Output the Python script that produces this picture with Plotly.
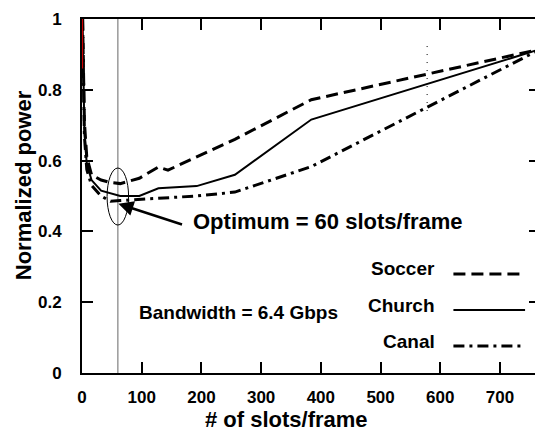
import plotly.graph_objects as go

# ---- data ----
soccer_x = [1, 2, 4, 8, 16, 32, 48, 64, 96, 128, 144, 256, 384, 768]
soccer_y = [1.0, 0.86, 0.71, 0.61, 0.56, 0.545, 0.538, 0.535, 0.55, 0.582, 0.573, 0.66, 0.772, 0.915]

church_x = [1, 2, 4, 8, 16, 32, 64, 96, 128, 192, 256, 384, 768]
church_y = [1.0, 0.84, 0.68, 0.59, 0.545, 0.515, 0.50, 0.50, 0.522, 0.528, 0.56, 0.716, 0.915]

canal_x = [1, 2, 4, 8, 16, 32, 48, 64, 96, 128, 192, 256, 384, 768]
canal_y = [1.0, 0.83, 0.67, 0.575, 0.53, 0.50, 0.485, 0.487, 0.49, 0.495, 0.50, 0.511, 0.583, 0.915]

x_ticks = [0, 100, 200, 300, 400, 500, 600, 700]
y_ticks = [0, 0.2, 0.4, 0.6, 0.8, 1]
y_tick_text = ["0", "0.2", "0.4", "0.6", "0.8", "1"]

series_names = ["Soccer", "Church", "Canal"]
optimum = 60

FONT = "Arial, Liberation Sans, sans-serif"
DASH_SOCCER = "12px,6px"
DASH_CANAL = "11px,5px,3px,5px"

fig = go.Figure()
fig.add_trace(go.Scatter(x=soccer_x, y=soccer_y, mode="lines", name=series_names[0],
                         line=dict(color="black", width=3, dash=DASH_SOCCER)))
fig.add_trace(go.Scatter(x=church_x, y=church_y, mode="lines", name=series_names[1],
                         line=dict(color="black", width=2)))
fig.add_trace(go.Scatter(x=canal_x, y=canal_y, mode="lines", name=series_names[2],
                         line=dict(color="black", width=3, dash=DASH_CANAL)))

shapes = []
# vertical grey line at optimum
shapes.append(dict(type="line", xref="x", yref="paper", x0=optimum, x1=optimum, y0=0, y1=1,
                   line=dict(color="#999999", width=1.5), layer="below"))
# ellipse around optimum
shapes.append(dict(type="circle", xref="x", yref="y", x0=42, x1=78, y0=0.418, y1=0.579,
                   line=dict(color="black", width=1)))
# red segment at left edge
shapes.append(dict(type="line", xref="x", yref="y", x0=0.6, x1=0.6, y0=0.86, y1=1.0,
                   line=dict(color="#cc0000", width=1.5)))
# small dotted vertical marks
shapes.append(dict(type="line", xref="x", yref="y", x0=578, x1=578, y0=0.74, y1=0.93,
                   line=dict(color="black", width=1, dash="1px,7px")))

# legend samples (text left, line right)
leg_y_line = [0.28, 0.178, 0.076]
leg_y_text = [0.294, 0.192, 0.09]
leg_dash = [DASH_SOCCER, "solid", DASH_CANAL]
leg_w = [3, 2, 3]
annotations = []
for name, yl, yt, d, w in zip(series_names, leg_y_line, leg_y_text, leg_dash, leg_w):
    shapes.append(dict(type="line", xref="x", yref="y", x0=622, x1=742, y0=yl, y1=yl,
                       line=dict(color="black", width=w, dash=d)))
    annotations.append(dict(x=594, y=yt, xref="x", yref="y", text=name, showarrow=False,
                            xanchor="right", yanchor="middle",
                            font=dict(family=FONT, size=19, color="black", weight="bold")))

annotations.append(dict(x=92, y=0.172, xref="x", yref="y", text="Bandwidth = 6.4 Gbps",
                        showarrow=False, xanchor="left", yanchor="middle",
                        font=dict(family=FONT, size=19, color="black", weight="bold")))
annotations.append(dict(x=182, y=0.427, xref="x", yref="y", text="Optimum = 60 slots/frame",
                        showarrow=False, xanchor="left", yanchor="middle",
                        font=dict(family=FONT, size=22, color="black", weight="bold")))
annotations.append(dict(x=optimum + 1, y=0.478, xref="x", yref="y", ax=170, ay=0.418,
                        axref="x", ayref="y", text="", showarrow=True,
                        arrowhead=2, arrowsize=1.2, arrowwidth=2.5, arrowcolor="black"))
# axis titles
annotations.append(dict(x=(287 - 82) / 460, y=(373 - 419) / 354, xref="paper", yref="paper",
                        text="# of slots/frame", showarrow=False, xanchor="center", yanchor="middle",
                        font=dict(family=FONT, size=22, color="black", weight="bold")))
annotations.append(dict(x=(23 - 82) / 460, y=(373 - 185) / 354, xref="paper", yref="paper",
                        text="Normalized power", showarrow=False, xanchor="center", yanchor="middle",
                        textangle=-90,
                        font=dict(family=FONT, size=22, color="black", weight="bold")))

# the page body has an 8px margin, so the figure is offset by 8px
fig.update_layout(
    width=535, height=425,
    margin=dict(l=74, r=1, t=11, b=60),
    paper_bgcolor="white", plot_bgcolor="white",
    showlegend=False,
    shapes=shapes, annotations=annotations,
    xaxis=dict(range=[0, 767], tickvals=x_ticks, ticks="inside", ticklen=11, tickwidth=1.5,
               tickcolor="black", showline=True, linecolor="black", linewidth=2, mirror="ticks",
               showgrid=False, zeroline=False, ticklabelstandoff=8,
               tickfont=dict(family=FONT, size=17, color="black", weight="bold")),
    yaxis=dict(range=[0, 1], tickvals=y_ticks, ticktext=y_tick_text, ticks="inside", ticklen=11,
               tickwidth=1.5, tickcolor="black", showline=True, linecolor="black", linewidth=2,
               mirror="ticks", showgrid=False, zeroline=False, ticklabelstandoff=15,
               tickfont=dict(family=FONT, size=17, color="black", weight="bold")),
)

fig.write_html("out.html")
